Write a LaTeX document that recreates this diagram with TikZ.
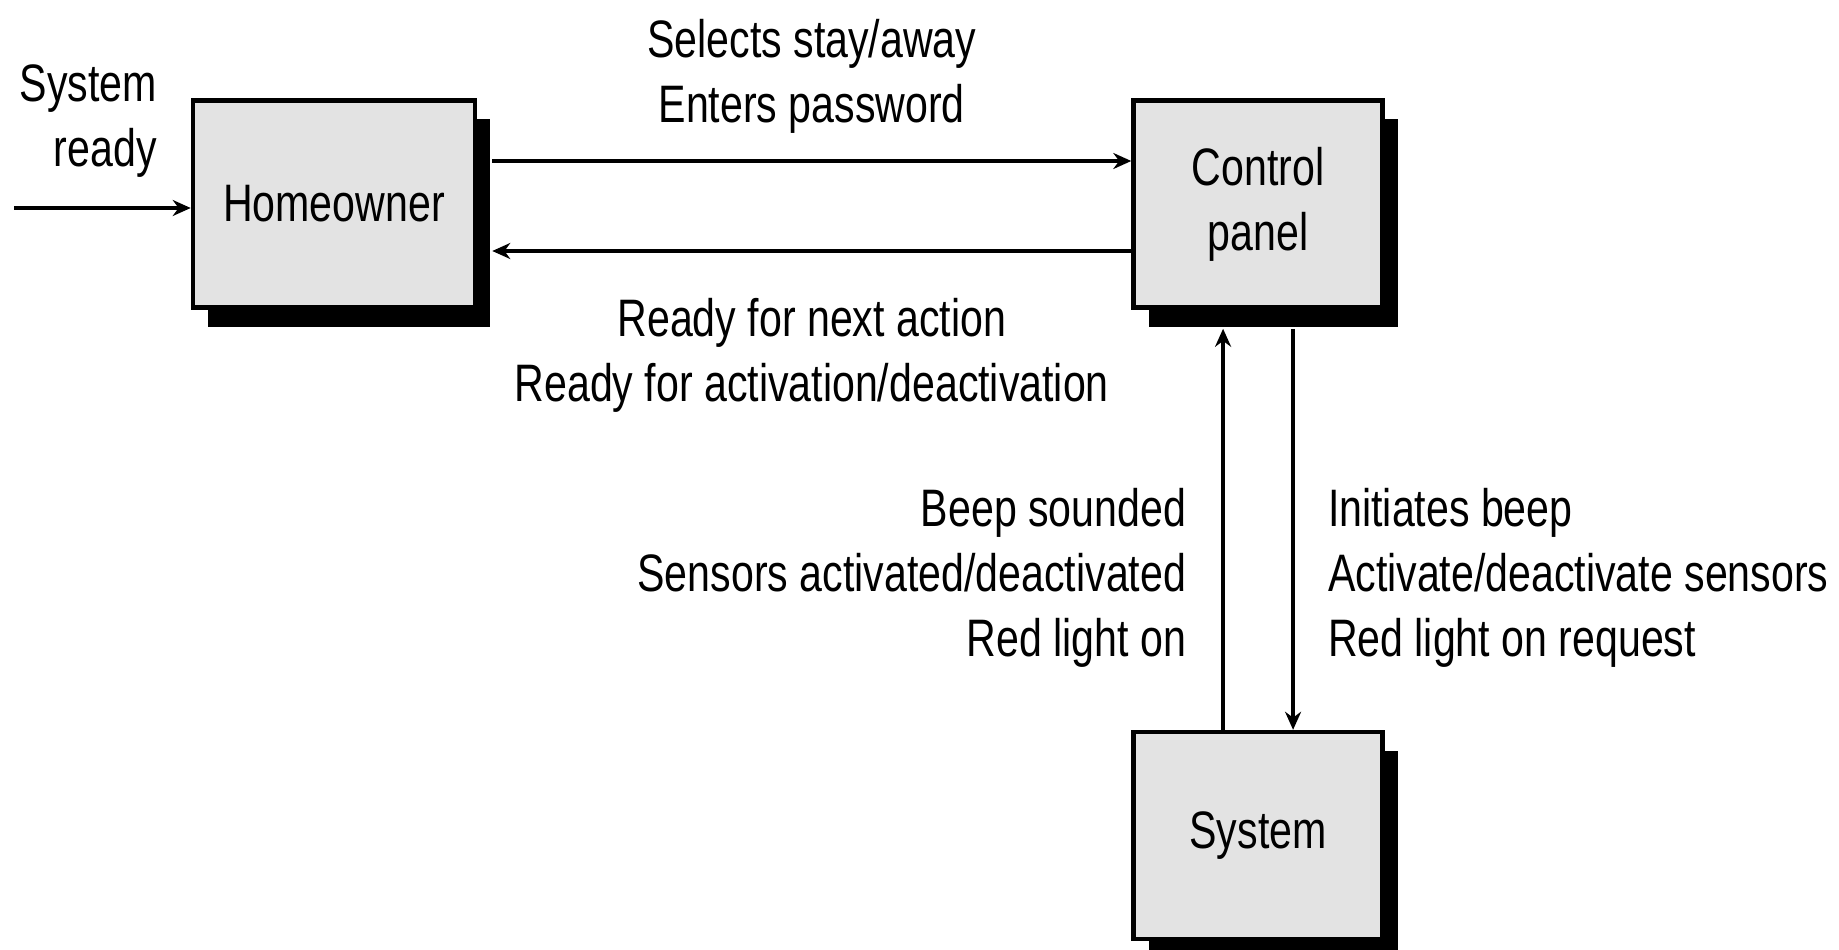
\documentclass[tikz,border=0pt]{standalone}
\usepackage{fontspec}
\setmainfont{Liberation Sans}[FakeStretch=0.78]
\usetikzlibrary{arrows.meta, positioning, shadows}
\definecolor{boxgray}{HTML}{E3E3E3}

\begin{document}
\begin{tikzpicture}[
    node distance=1cm,
    every node/.style={font=\fontsize{30}{37}\selectfont},
    block/.style={draw, line width=2.6pt, fill=boxgray, minimum width=4.98cm, minimum height=4.14cm, align=center,
        drop shadow={shadow xshift=0.3cm, shadow yshift=-0.38cm, fill=black, opacity=1}},
    lbl/.style={inner sep=0pt, align=center},
    arrow/.style={-{Stealth[length=3.6mm, width=3.2mm]}, line width=2.2pt}
]
\useasboundingbox (0,0) rectangle (36.78,-19);
\node (home) [block, minimum width=5.64cm] at (6.68,-4.08) {Homeowner};
\node (ctrl) [block, right=13.08cm of home] {Control\\panel};
\node (sys) [block, below=8.4cm of ctrl] {System};
\coordinate (start) at (0.28,-4.16);

\draw[arrow] (start) -- (home.west |- start) node[lbl, pos=0.42, above=0.58cm, align=right] (rdy) {System\\ready};
\draw[arrow] ([xshift=0.3cm,yshift=0.86cm]home.east) -- ([yshift=0.86cm]ctrl.west)
    node[lbl, midway, above=0.52cm] (cmd) {Selects stay/away\\Enters password};
\draw[arrow] ([yshift=-0.94cm]ctrl.west) -- ([xshift=0.3cm,yshift=-0.94cm]home.east)
    node[lbl, midway, below=0.9cm] (resp) {Ready for next action\\Ready for activation/deactivation};
\draw[arrow] ([xshift=-0.7cm]sys.north) -- ([xshift=-0.7cm,yshift=-0.38cm]ctrl.south)
    node[lbl, pos=0.38, left=0.7cm, align=right] (stat) {Beep sounded\\Sensors activated/deactivated\\Red light on};
\draw[arrow] ([xshift=0.7cm,yshift=-0.38cm]ctrl.south) -- ([xshift=0.7cm]sys.north)
    node[lbl, pos=0.62, right=0.66cm, align=left] (req) {Initiates beep\\Activate/deactivate sensors\\Red light on request};
\end{tikzpicture}
\end{document}
